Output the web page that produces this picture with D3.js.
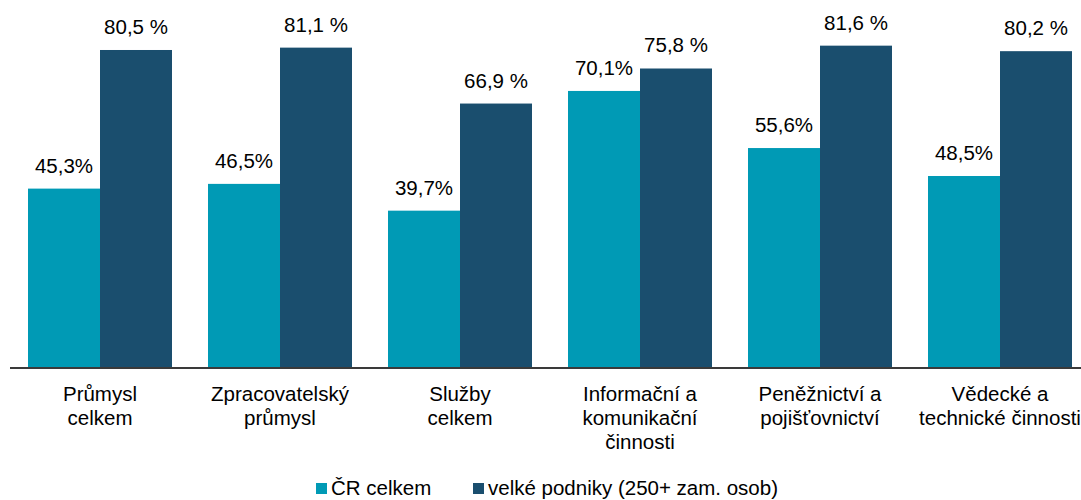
<!DOCTYPE html>
<html>
<head>
<meta charset="utf-8">
<script src="https://cdn.jsdelivr.net/npm/d3@7"></script>
<style>
  html, body { margin: 0; padding: 0; background: #fff; overflow: hidden; }
  svg { display: block; font-family: "Liberation Sans", Arial, sans-serif; }
</style>
</head>
<body>
<div id="chart"></div>
<script>
// Data
const categories = [
  ['Průmysl', 'celkem'],
  ['Zpracovatelský', 'průmysl'],
  ['Služby', 'celkem'],
  ['Informační a', 'komunikační', 'činnosti'],
  ['Peněžnictví a', 'pojišťovnictví'],
  ['Vědecké a', 'technické činnosti']
];
const seriesNames = ['ČR celkem', 'velké podniky (250+ zam. osob)'];
const crValues = [45.3, 46.5, 39.7, 70.1, 55.6, 48.5];
const bigValues = [80.5, 81.1, 66.9, 75.8, 81.6, 80.2];
const colors = ['#009ab5', '#1a4e6e'];

const width = 1081, height = 500;
const baseline = 367;

const svg = d3.select('#chart')
  .append('svg')
  .attr('width', width)
  .attr('height', height);

const keys = categories.map((c, i) => i);

const x0 = d3.scaleBand()
  .domain(keys)
  .range([10, 1090])
  .paddingInner(0.2)
  .paddingOuter(0.1);

const x1 = d3.scaleBand()
  .domain([0, 1])
  .range([0, x0.bandwidth()]);

const y = d3.scaleLinear()
  .domain([0, 100])
  .range([baseline, baseline - 393.8]);

const fmt = v => v.toFixed(1).replace('.', ',');

const groups = svg.selectAll('.group')
  .data(keys)
  .enter()
  .append('g')
  .attr('transform', d => `translate(${x0(d)},0)`);

// Bars + value labels
groups.each(function(i) {
  const g = d3.select(this);
  const vals = [crValues[i], bigValues[i]];
  vals.forEach((v, s) => {
    g.append('rect')
      .attr('x', x1(s))
      .attr('y', y(v))
      .attr('width', x1.bandwidth())
      .attr('height', baseline - y(v))
      .attr('fill', colors[s]);

    g.append('text')
      .attr('x', x1(s) + x1.bandwidth() / 2)
      .attr('y', y(v) - 16)
      .attr('text-anchor', 'middle')
      .style('font-size', '20.5px')
      .style('fill', '#000')
      .text(s === 0 ? fmt(v) + '%' : fmt(v) + ' %');
  });
});

// Axis line
svg.append('line')
  .attr('x1', 10)
  .attr('x2', width)
  .attr('y1', baseline + 1)
  .attr('y2', baseline + 1)
  .attr('stroke', '#3a3a3a')
  .attr('stroke-width', 2);

// Category labels
groups.append('text')
  .attr('text-anchor', 'middle')
  .attr('x', x0.bandwidth() / 2)
  .style('font-size', '20.5px')
  .style('fill', '#000')
  .selectAll('tspan')
  .data(i => categories[i])
  .enter()
  .append('tspan')
  .attr('x', x0.bandwidth() / 2)
  .attr('y', (d, j) => 401 + j * 24)
  .text(d => d);

// Legend
const legendX = [316, 473];
seriesNames.forEach((name, s) => {
  svg.append('rect')
    .attr('x', legendX[s])
    .attr('y', 483)
    .attr('width', 11)
    .attr('height', 11)
    .attr('fill', colors[s]);
  svg.append('text')
    .attr('x', legendX[s] + 15)
    .attr('y', 495)
    .style('font-size', '20.5px')
    .style('fill', '#000')
    .text(name);
});
</script>
</body>
</html>
